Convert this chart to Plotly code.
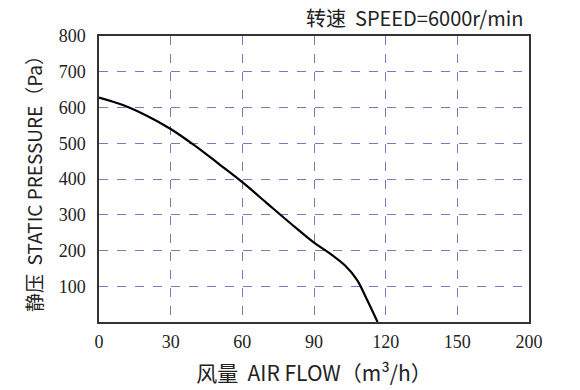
import plotly.graph_objects as go

# Curve data
air_flow = [0, 10, 20, 30, 40, 50, 60, 70, 80, 90, 97, 103, 108, 112, 116.6]
static_pressure = [628, 607, 577, 540, 494, 443, 391, 334, 277, 222, 190, 158, 118, 65, 0]

# Axis ticks (last tick labelled 200 but equally spaced like the original)
x_tick_pos = [0, 30, 60, 90, 120, 150, 180]
x_tick_text = ["0", "30", "60", "90", "120", "150", "200"]
y_tick_vals = [100, 200, 300, 400, 500, 600, 700, 800]

grid_color = "#7a7ab8"
sans = "Noto Sans CJK SC"
serif = "Liberation Serif, Tinos, Times New Roman, DejaVu Serif, serif"

fig = go.Figure()
fig.add_trace(go.Scatter(
    x=air_flow, y=static_pressure, mode="lines",
    line=dict(color="black", width=2.2, shape="spline", smoothing=1.0),
    showlegend=False, hoverinfo="skip"))

fig.update_layout(
    width=580, height=390,
    margin=dict(l=99, r=51, t=36, b=68),
    paper_bgcolor="white", plot_bgcolor="white",
    annotations=[dict(
        text="转速  SPEED=6000r/min", xref="paper", yref="paper",
        x=1.0, y=1.0, xanchor="right", yanchor="bottom", yshift=2, xshift=-4,
        showarrow=False, font=dict(family=sans, size=20, color="#222"))],
)

fig.update_xaxes(
    range=[0, 180], tickvals=x_tick_pos, ticktext=x_tick_text,
    showgrid=True, gridcolor=grid_color, griddash="dash", gridwidth=1,
    showline=True, linecolor="#333", linewidth=1.5, mirror=True,
    ticks="", zeroline=False, automargin=False, ticklabelstandoff=3,
    tickfont=dict(family=serif, size=18, color="#222"),
    title=dict(text="风量  AIR FLOW（m³/h）", font=dict(family=sans, size=21, color="#222"), standoff=15),
)
fig.update_yaxes(
    range=[0, 800], tickvals=y_tick_vals,
    showgrid=True, gridcolor=grid_color, griddash="dash", gridwidth=1,
    showline=True, linecolor="#333", linewidth=1.5, mirror=True,
    ticks="", zeroline=False, automargin=False, ticklabelstandoff=8,
    tickfont=dict(family=serif, size=18, color="#222"),
    title=dict(text="静压  STATIC PRESSURE（Pa）", font=dict(family=sans, size=19, color="#222"), standoff=11),
)

fig.write_html("out.html", config={"displayModeBar": False},
               post_script="document.body.style.margin='0';")
